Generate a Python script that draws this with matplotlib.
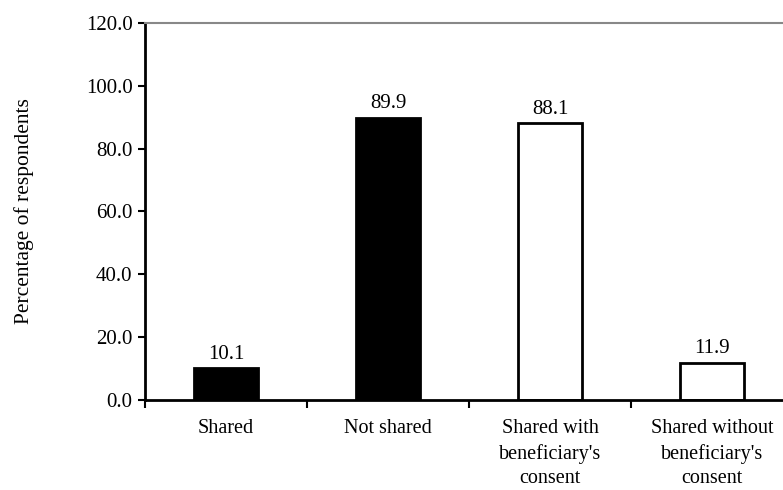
import numpy as np
import matplotlib.pyplot as plt

plt.rcParams['font.family'] = ['Liberation Serif', 'DejaVu Serif']

categories = ['Shared', 'Not shared', "Shared with\nbeneficiary's\nconsent",
              "Shared without\nbeneficiary's\nconsent"]
values = [10.1, 89.9, 88.1, 11.9]
fills = ['black', 'black', 'white', 'white']
yticks = [0, 20, 40, 60, 80, 100, 120]

fig = plt.figure(figsize=(7.83, 4.9), dpi=100)
ax = fig.add_axes([145/783, (490-400)/490, (793-145)/783, 377/490])

x = np.arange(len(values))
ax.bar(x, values, width=0.4, color=fills, edgecolor='black', linewidth=2)
for xi, v in zip(x, values):
    ax.text(xi, v + 1.5, f'{v:.1f}', ha='center', va='bottom', fontsize=15)

ax.set_xlim(-0.5, 3.5)
ax.set_ylim(0, 120)
ax.set_yticks(yticks)
ax.set_yticklabels([f'{t:.1f}' for t in yticks], fontsize=15)
ax.set_xticks(x)
ax.set_xticklabels(categories, fontsize=14.5, linespacing=1.36)
ax.tick_params(axis='x', length=0, pad=14)
ax.set_xticks(np.arange(-0.5, 3.5, 1), minor=True)
ax.tick_params(axis='x', which='minor', length=6, width=1.5, direction='out')
ax.tick_params(axis='y', length=5, width=1.5, direction='out', pad=4)

ax.spines['right'].set_visible(False)
ax.spines['top'].set_color('#888888')
ax.spines['top'].set_linewidth(1.5)
for s in ['left', 'bottom']:
    ax.spines[s].set_linewidth(2)

ax.set_ylabel('Percentage of respondents', fontsize=15.5)
ax.yaxis.set_label_coords(-111/648, 0.5)

fig.savefig('out.png', dpi=100)
